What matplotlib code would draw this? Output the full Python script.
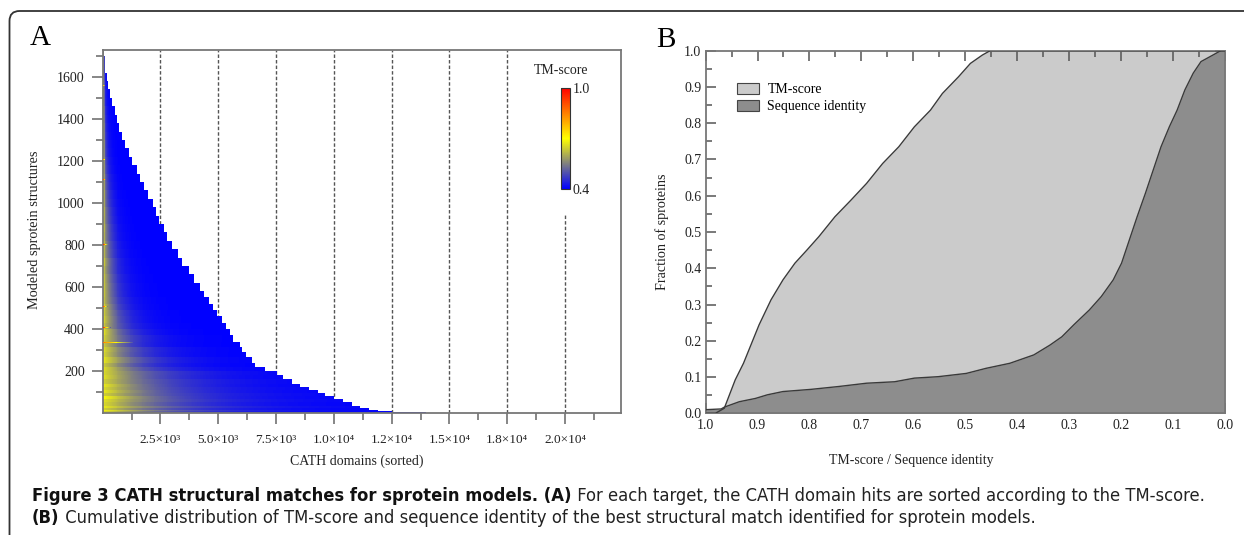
import numpy as np
import matplotlib
matplotlib.use('Agg')
import matplotlib.pyplot as plt
import matplotlib.font_manager as fm
from matplotlib.colors import LinearSegmentedColormap
from matplotlib.patches import FancyBboxPatch, Patch
from matplotlib.transforms import IdentityTransform

# ---- panel A: CATH hits per modelled structure (rows sorted by number of hits)
band_edges = [0, 4, 8, 15, 25, 35, 50, 65, 80, 95, 110, 125, 140, 160, 180, 200,
              220, 240, 265, 290, 315, 340, 370, 400, 430, 460, 490, 520, 550,
              580, 620, 660, 700, 740, 780, 820, 860, 900, 940, 980, 1020, 1060,
              1100, 1140, 1180, 1220, 1260, 1300, 1340, 1380, 1420, 1460, 1500,
              1540, 1580, 1620, 1660, 1700, 1725]
band_hits = [14000, 12500, 11900, 11500, 11100, 10800, 10400, 10000, 9600, 9300,
             8900, 8500, 8200, 7800, 7500, 7000, 6600, 6450, 6200, 6050,
             5900, 5650, 5500, 5300, 5150, 4950, 4750, 4600, 4400, 4200,
             3950, 3700, 3450, 3250, 3000, 2800, 2650, 2450, 2300, 2150,
             1950, 1800, 1600, 1480, 1280, 1100, 950, 840, 720, 600,
             500, 410, 330, 250, 180, 115, 60, 20]
# decay length (in hits) of the sorted TM-scores
band_decay = [3500, 3200, 3400, 3000, 3300, 2900, 3100, 2700, 3000, 2600, 2700, 2400, 2600, 2200, 2300,
              1800, 1550, 1600, 1350, 1350, 1100, 1100, 900, 820, 720, 700, 600, 580, 510, 500,
              460, 430, 400, 370, 340, 310, 290, 270, 250, 230, 210, 190, 175, 160,
              145, 135, 125, 115, 105, 100, 90, 80, 75, 70, 60, 55, 50, 45]
# TM-score of the best hit
band_top = [0.68, 0.66, 0.69, 0.65, 0.68, 0.66, 0.67, 0.70, 0.65, 0.68, 0.66, 0.68, 0.65, 0.67, 0.66,
            0.67, 0.65, 0.68, 0.66, 0.67, 0.65, 0.66, 0.68, 0.65, 0.67, 0.66, 0.67, 0.65, 0.66, 0.66,
            0.66, 0.65, 0.67, 0.65, 0.66, 0.65, 0.66, 0.65, 0.66, 0.65, 0.66, 0.65, 0.66, 0.65,
            0.66, 0.65, 0.66, 0.65, 0.66, 0.65, 0.66, 0.65, 0.66, 0.65, 0.66, 0.65, 0.66, 0.66]
# thin rows with very good best hits
streak_rows = [333, 405, 506, 800, 1110, 1205, 1560]
streak_top = [0.86, 0.97, 0.93, 0.97, 0.97, 0.88, 0.85]
streak_len = [1300, 350, 250, 250, 150, 120, 80]

x_ticks = [2500, 5000, 7500, 10000, 12500, 15000, 17500, 20000]
x_ticklabels = ['2.5×10³', '5.0×10³', '7.5×10³', '1.0×10⁴',
                '1.2×10⁴', '1.5×10⁴', '1.8×10⁴', '2.0×10⁴']

# ---- panel B: cumulative distributions
tm_x = [1.0, 0.981, 0.964, 0.943, 0.927, 0.897, 0.874, 0.851, 0.828, 0.805,
        0.782, 0.751, 0.720, 0.690, 0.659, 0.628, 0.598, 0.567, 0.544, 0.513,
        0.490, 0.467, 0.452, 0.0]
tm_y = [0.0, 0.0, 0.014, 0.092, 0.138, 0.244, 0.313, 0.368, 0.414, 0.450,
        0.487, 0.542, 0.588, 0.634, 0.689, 0.735, 0.790, 0.836, 0.882, 0.928,
        0.965, 0.988, 1.0, 1.0]
seq_x = [1.0, 0.97, 0.964, 0.935, 0.904, 0.881, 0.851, 0.797, 0.743, 0.690,
         0.636, 0.598, 0.552, 0.498, 0.460, 0.414, 0.368, 0.337, 0.314, 0.291,
         0.261, 0.238, 0.215, 0.199, 0.184, 0.169, 0.153, 0.138, 0.123, 0.107,
         0.092, 0.077, 0.061, 0.046, 0.023, 0.008, 0.0]
seq_y = [0.010, 0.012, 0.017, 0.032, 0.041, 0.051, 0.060, 0.066, 0.074, 0.083,
         0.087, 0.097, 0.101, 0.110, 0.124, 0.138, 0.161, 0.188, 0.211, 0.244,
         0.285, 0.322, 0.368, 0.414, 0.478, 0.542, 0.607, 0.671, 0.735, 0.790,
         0.836, 0.892, 0.938, 0.970, 0.988, 1.0, 1.0]

plt.rcParams['font.family'] = ['Liberation Serif', 'DejaVu Serif']

W, H = 1244, 535
fig = plt.figure(figsize=(W / 100, H / 100), dpi=100)


def px_axes(l, t, r, b):
    return fig.add_axes([l / W, 1 - b / H, (r - l) / W, (b - t) / H])


axA = px_axes(102.7, 50, 621, 413)
axB = px_axes(705.6, 50.7, 1224.9, 413.3)

tm_cmap = LinearSegmentedColormap.from_list(
    'tm', [(0, '#0000ff'), (0.5, '#ffff00'), (1, '#ff0000')])

# build the sorted-hit image band by band
xe = np.arange(0, max(band_hits) + 40, 40)
xc = (xe[:-1] + xe[1:]) / 2
Z = np.ma.masked_all((len(band_hits), len(xc)))
for i, (n, top, L) in enumerate(zip(band_hits, band_top, band_decay)):
    Z[i] = np.ma.masked_where(xc > n, 0.4 + (top - 0.4) * np.exp(-xc / L))
mesh = axA.pcolormesh(xe, band_edges, Z, cmap=tm_cmap, vmin=0.4, vmax=1.0,
                      shading='flat', antialiased=False, zorder=2)
for r, top, n in zip(streak_rows, streak_top, streak_len):
    t = np.clip(1 - xc / n, 0, None)
    zs = np.ma.masked_where(xc > n, 0.5 + (top - 0.5) * t)[None, :]
    axA.pcolormesh(xe, [r - 2, r + 3], zs, cmap=tm_cmap, vmin=0.4, vmax=1.0,
                   shading='flat', antialiased=False, zorder=3)

for xv in x_ticks:
    axA.axvline(xv, ymax=0.545 if xv == 20000 else 1, color='#555', lw=1,
                ls=(0, (2.5, 1.5)), zorder=1)

axA.set_xlim(0, 22420)
axA.set_ylim(0, 1728)
axA.set_xticks(x_ticks)
axA.set_xticklabels(x_ticklabels)
axA.set_xticks(np.arange(1250, 22420, 1250), minor=True)
axA.set_yticks(range(200, 1700, 200))
axA.set_yticks(range(100, 1728, 100), minor=True)
axA.tick_params(which='both', direction='out', colors='#666', labelcolor='#222')
axA.tick_params(which='major', length=8, width=1.1)
axA.tick_params(which='minor', length=5, width=1.1)
axA.tick_params(axis='x', pad=7, labelsize=9.5)
axA.tick_params(axis='y', pad=5, labelsize=10)
for s in axA.spines.values():
    s.set_color('#777')
    s.set_linewidth(1.3)
axA.set_xlabel('CATH domains (sorted)', fontsize=10, color='#222')
axA.set_ylabel('Modeled sprotein structures', fontsize=10.3, color='#222')
axA.xaxis.set_label_coords(0.49, -0.134)
axA.xaxis.label.set_va('center')
axA.yaxis.set_label_coords(-0.1325, 0.504)
axA.yaxis.label.set_va('center')

cax = px_axes(561, 88, 570, 189)
cb = fig.colorbar(mesh, cax=cax)
cb.set_ticks([0.4, 1.0])
cb.set_ticklabels(['0.4', '1.0'])
cb.ax.tick_params(length=0, labelsize=10, pad=2, labelcolor='#222')
cb.outline.set_edgecolor('#333')
cb.outline.set_linewidth(0.8)
fig.text(561 / W, 1 - 71 / H, 'TM-score', fontsize=10, ha='center', va='center',
         color='#222')

# panel B
axB.fill_between(tm_x, 0, tm_y, color='#cbcbcb', lw=0, zorder=1)
axB.fill_between(seq_x, 0, seq_y, color='#8d8d8d', lw=0, zorder=2)
axB.plot(tm_x, tm_y, color='#3a3a3a', lw=1, zorder=3)
axB.plot(seq_x, seq_y, color='#3a3a3a', lw=1, zorder=3)
axB.set_xlim(1.0, 0.0)
axB.set_ylim(0, 1.0)
ticks = np.round(np.arange(0, 1.01, 0.1), 1)
axB.set_xticks(ticks)
axB.set_yticks(ticks)
axB.set_xticklabels([f'{v:.1f}' for v in ticks])
axB.set_yticklabels([f'{v:.1f}' for v in ticks])
axB.set_xticks(np.arange(0.05, 1.0, 0.1), minor=True)
axB.set_yticks(np.arange(0.05, 1.0, 0.1), minor=True)
axB.tick_params(which='both', direction='in', top=True, right=True,
                colors='#555', labelcolor='#222', labelsize=10)
axB.tick_params(which='major', length=7, width=1.1)
axB.tick_params(which='minor', length=4, width=1.1)
axB.tick_params(axis='x', pad=4)
axB.tick_params(axis='y', pad=3)
for s in axB.spines.values():
    s.set_color('#777')
    s.set_linewidth(1.3)
axB.set_xlabel('TM-score / Sequence identity', fontsize=10, color='#222')
axB.set_ylabel('Fraction of sproteins', fontsize=10.2, color='#222')
axB.xaxis.set_label_coords(0.397, -0.13)
axB.xaxis.label.set_va('center')
axB.yaxis.set_label_coords(-0.084, 0.5)
axB.yaxis.label.set_va('center')
axB.legend(handles=[Patch(facecolor='#cbcbcb', edgecolor='#444', lw=0.8, label='TM-score'),
                    Patch(facecolor='#8d8d8d', edgecolor='#444', lw=0.8, label='Sequence identity')],
           loc='upper left', bbox_to_anchor=(0.06, 0.91), frameon=False, fontsize=10,
           handlelength=1.6, handleheight=0.8, labelspacing=0.25, handletextpad=0.6,
           borderpad=0, borderaxespad=0)

fig.text(40 / W, 1 - 38 / H, 'A', fontsize=21, ha='center', va='center')
fig.text(666 / W, 1 - 40 / H, 'B', fontsize=21, ha='center', va='center')

# rounded frame around the figure
frame = FancyBboxPatch((9.5, -40), 1300, 535 - 11 + 40,
                       boxstyle='round,pad=0,rounding_size=10',
                       transform=IdentityTransform(), fill=False,
                       edgecolor='#333', lw=1.3)
fig.add_artist(frame)

# caption, in a condensed sans face when one is installed
fonts = fm.fontManager.ttflist


def pick_face(weight_bold):
    wanted = [('Liberation Sans Narrow', None), ('DejaVu Sans', 'condensed'),
              ('Roboto Condensed', None), ('Open Sans Condensed', None),
              ('Roboto', None), ('Liberation Sans', None)]
    for name, stretch in wanted:
        for f in fonts:
            if f.name != name:
                continue
            if stretch and f.stretch not in ('condensed', 'semi-condensed'):
                continue
            is_bold = f.weight in ('bold', 700, 'heavy', 800) or 'Bold' in f.fname
            if is_bold == weight_bold and 'Italic' not in f.fname and 'Oblique' not in f.fname:
                return f.fname
    return None


reg_file = pick_face(False)
bold_file = pick_face(True)
renderer = fig.canvas.get_renderer()


def fprop(bold, size):
    fname = bold_file if bold else reg_file
    if fname:
        return fm.FontProperties(fname=fname, size=size)
    return fm.FontProperties(family='DejaVu Sans', weight='bold' if bold else 'normal', size=size)


def caption_line(y_px, bold, rest, size):
    t1 = fig.text(32 / W, 1 - y_px / H, bold, fontproperties=fprop(True, size),
                  ha='left', va='center', color='#111')
    bb = t1.get_window_extent(renderer)
    t2 = fig.text(bb.x1 / W, 1 - y_px / H, ' ' + rest, fontproperties=fprop(False, size),
                  ha='left', va='center', color='#222')
    return t1, t2


line1 = ('Figure 3 CATH structural matches for sprotein models. (A)',
         'For each target, the CATH domain hits are sorted according to the TM-score.')
line2 = ('(B)', 'Cumulative distribution of TM-score and sequence identity of the best '
         'structural match identified for sprotein models.')

t1, t2 = caption_line(496, *line1, 12)
width = t2.get_window_extent(renderer).x1 - 32
t1.remove()
t2.remove()
cap_size = min(13.4, 12 * (1206 - 32) / width)
caption_line(496, *line1, cap_size)
caption_line(518, *line2, cap_size)

fig.savefig('out.png', dpi=100)
